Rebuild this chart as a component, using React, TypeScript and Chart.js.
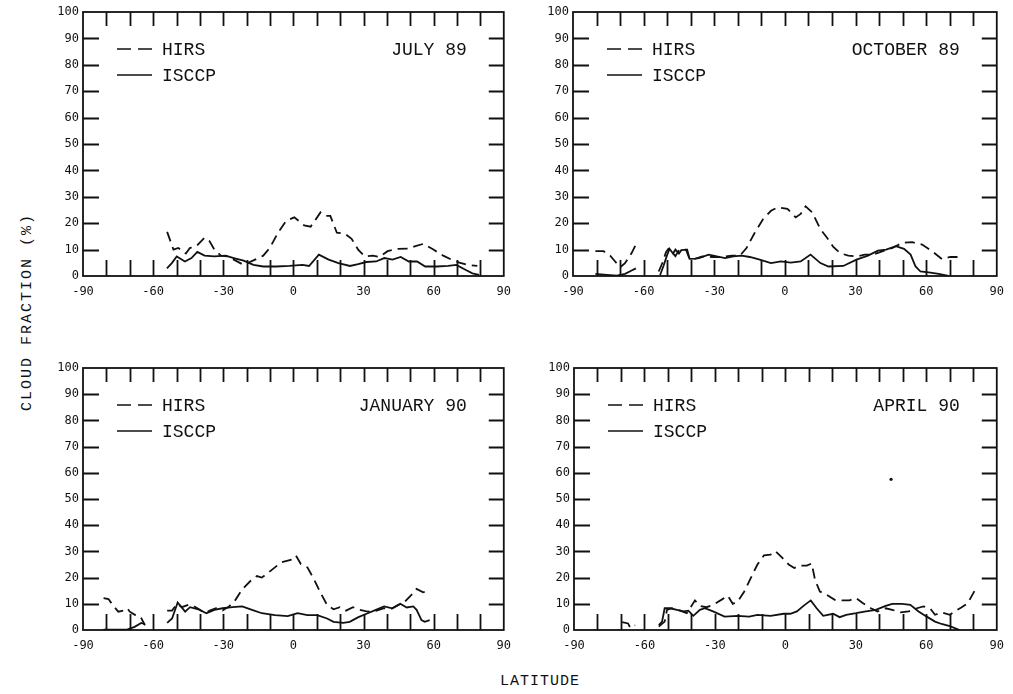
import React, { useEffect, useRef } from "react";
import { Chart, registerables } from "chart.js";

Chart.register(...registerables);

type Pt = [number, number | null];

// Zonal mean cloud fraction (%) against latitude; null marks a break in the curve.
const julyHirs: Pt[] = [
  [-54, 16.7], [-51.3, 10], [-49.2, 10.6], [-46, 8.5], [-44.3, 10.6], [-41.5, 11.3], [-38, 14.5],
  [-35.9, 13.2], [-33.8, 10], [-31, 7.7], [-28.3, 7.4], [-25.5, 6.2], [-21.3, 4.2], [-17.1, 5.9],
  [-12.9, 7.7], [-10.1, 10.6], [-6.6, 16.4], [-3.1, 20.9], [0.4, 22.2], [4.6, 19.2], [7.4, 18.7],
  [11.6, 24.1], [13.7, 22.8], [15.8, 22.8], [18.6, 16.4], [22.1, 16], [24.9, 14.1], [27.7, 10],
  [30.5, 7.4], [34, 7.7], [36.8, 7.2], [40.3, 9.4], [44.5, 10.3], [49.4, 10.4], [52.2, 11.3],
  [55.7, 12.2], [59.9, 10], [64.1, 7.7], [67.6, 6.2], [71, 5.1], [74.5, 4.2], [78.7, 3.8],
];
const julyIsccp: Pt[] = [
  [-54.1, 2.9], [-52, 4.9], [-49.9, 7.4], [-46.4, 5.5], [-43.6, 6.8], [-41.1, 9.1], [-38, 7.7],
  [-33.8, 7.4], [-29, 7.7], [-25.5, 6.8], [-21.3, 5.8], [-17.1, 4.2], [-12.9, 3.6], [-7.3, 3.6],
  [-1.7, 3.8], [3.9, 4.2], [6.7, 3.8], [10.9, 8.1], [15.1, 6.2], [19.3, 4.9], [24.2, 3.8],
  [27.7, 4.5], [31.2, 5.3], [35.4, 5.5], [38.9, 6.8], [42.4, 6.2], [45.9, 7.2], [49.4, 5.5],
  [52.9, 5.5], [56.4, 3.6], [61.3, 3.6], [66.2, 3.8], [69.7, 4.2], [73.8, 2.3], [76.6, 1], [79.4, 0.4],
];

const octoberHirs: Pt[] = [
  [-80.5, 9.4], [-77, 9.4], [-74.2, 7.7], [-72.1, 5.5], [-70, 3.3], [-67.9, 4.9], [-65.1, 8.7],
  [-63.3, 11.9], [-58, null], [-53.6, 1.7], [-52, 5], [-50.5, 9], [-49.5, 10.3], [-48, 9],
  [-46.5, 7.5], [-45, 9.8], [-42, 10], [-40.5, 6.5], [-39.3, 6.2], [-35.1, 7.4], [-31, 7.2],
  [-26.8, 7.2], [-22.6, 7.7], [-19.1, 7.7], [-16.3, 10.6], [-12.8, 16.4], [-9.3, 21.5], [-5.9, 24.7],
  [-3.1, 26], [1.1, 25.4], [4.6, 22.2], [6.7, 23.5], [8.8, 26.4], [11.6, 24.1], [15.1, 17.7],
  [17.9, 14.5], [20.6, 11], [23.4, 8.7], [26.9, 7.7], [30.4, 7.4], [33.9, 8.1], [37.4, 8.1],
  [41.6, 9.4], [45.7, 10.6], [49.9, 12.6], [54.1, 12.8], [58.3, 11.9], [62.5, 9.4], [66.7, 6.4],
  [70.2, 7.2], [73.6, 7.2],
];
const octoberIsccp: Pt[] = [
  [-80.5, 0.8], [-75.6, 0.4], [-71.4, 0.1], [-67.9, 0.8], [-65.1, 2.1], [-63.3, 2.9], [-58, null],
  [-53, 0.4], [-51.5, 4], [-50, 8], [-49, 10.3], [-47.5, 8.5], [-46.5, 10], [-45, 8.5], [-44, 9.8],
  [-41.5, 10], [-40.5, 6.5], [-38, 6.6], [-36.5, 6.8], [-32.4, 8.1], [-28.9, 7.4], [-25.4, 6.8],
  [-21.9, 7.4], [-18.4, 7.7], [-14.9, 7.2], [-10.7, 6.2], [-5.9, 4.9], [-1.7, 5.5], [2.5, 5.1],
  [6.7, 5.5], [10.9, 8.1], [15.1, 4.9], [18.5, 3.6], [24.8, 3.8], [30.4, 6.2], [35.3, 7.7],
  [39.5, 9.6], [43, 10], [47.1, 11.3], [50.6, 10.3], [53.4, 8.1], [55.5, 3.6], [57.6, 1.7],
  [61.8, 1.3], [65.3, 0.8], [69.5, 0],
];

const januaryHirs: Pt[] = [
  [-81.2, 12.2], [-79.1, 11.8], [-77, 9.2], [-74.9, 7], [-72.8, 7.4], [-71, 8.3], [-70, 7],
  [-67.6, 5.7], [-65.4, 5.1], [-63.5, 1.8], [-59, null], [-54, 7.4], [-51.9, 7.4], [-49.8, 10],
  [-47.7, 8.7], [-44.9, 9.6], [-42.8, 9.2], [-40, 7.7], [-37.9, 6.4], [-35.8, 7.4], [-33.1, 8.3],
  [-30.3, 7.4], [-27.5, 9], [-24.7, 11.6], [-21.9, 15.5], [-18.4, 18.7], [-15.6, 20.6],
  [-13.5, 20], [-10.7, 21.9], [-7.9, 23.9], [-5.2, 25.8], [-2.4, 26.5], [-0.7, 26.9], [1.1, 28.4],
  [3.2, 25.2], [6, 23.9], [8.8, 19.4], [11.6, 14.2], [14.4, 9.6], [17.2, 7.9], [19.9, 8.7],
  [22.5, 7.4], [25.5, 8.7], [28.3, 7.7], [31.8, 7], [35.3, 7.3], [38.8, 8.3], [41.6, 7.9],
  [45, 9.6], [47.8, 10.9], [50.6, 13.5], [52.7, 15.7], [55.5, 14.4], [57.6, 14.8],
];
const januaryIsccp: Pt[] = [
  [-81.2, 0.1], [-76.3, 0.1], [-71.4, 0.1], [-67.9, 1.2], [-65.1, 2.7], [-63.5, 2.2], [-59, null],
  [-54, 2.7], [-51.9, 4.4], [-49.5, 10.5], [-46.3, 7], [-44.2, 8.7], [-40.7, 7.9], [-37.2, 6.4],
  [-33.8, 7.7], [-30.3, 8.3], [-26.1, 8.7], [-21.9, 9], [-17.7, 7.7], [-13.5, 6.4], [-7.9, 5.7],
  [-2.4, 5.3], [1.8, 6.4], [6, 5.7], [10.2, 5.7], [14.4, 4.4], [17.2, 3.1], [21.3, 2.7],
  [24.1, 3.1], [27.6, 4.8], [31.8, 6.4], [35.3, 7.7], [38.8, 9], [42.3, 8.3], [45.7, 10],
  [48.5, 8.6], [51.3, 9], [52.7, 7.7], [54.8, 3.8], [56.2, 3.1], [58.3, 3.8],
];

const aprilHirs: Pt[] = [
  [-69.5, 3], [-67, 2.5], [-66, 0.8], [-64, 1.8], [-59, null], [-53.9, 1.3], [-51.4, 3.2],
  [-50.4, 7.7], [-48.3, 8.3], [-44.8, 7.4], [-42, 6.4], [-40.6, 8.3], [-38.5, 11.3], [-36.4, 9.2],
  [-33.6, 8.7], [-30.8, 9.6], [-27.3, 11.5], [-24.5, 13.1], [-22.4, 10], [-20.3, 10.9],
  [-17.5, 14.7], [-14.7, 19.9], [-11.9, 25], [-9.1, 28.5], [-6.3, 28.8], [-4.2, 30.1],
  [-1.4, 27.6], [1.4, 25], [3.8, 23.7], [6.3, 24.6], [9.1, 24.6], [11.2, 25.4], [12.6, 19.2],
  [14.7, 14.7], [17.5, 13.5], [21, 11.5], [24.5, 11.3], [27.3, 11.3], [30.1, 12.2], [32.9, 10.3],
  [36.4, 8.3], [39.2, 7.1], [42.7, 8.3], [45.5, 7.7], [49, 6.7], [52.5, 7.1], [56, 8.3],
  [58.8, 9], [61.6, 8.3], [63.7, 5.8], [66.5, 6.7], [70, 5.8], [72.1, 7.1], [74.9, 8.6],
  [77.7, 10.3], [81.2, 16],
];
const aprilIsccp: Pt[] = [
  [-53.9, 1.9], [-52.5, 3.2], [-51.4, 8.3], [-49, 8.3], [-46.2, 7.7], [-43.4, 7.1], [-41.3, 7.4],
  [-39.2, 5.4], [-36.4, 7.7], [-34.3, 8.3], [-30.8, 7.1], [-25.9, 5.1], [-20.3, 5.4], [-15.4, 5.1],
  [-11.9, 5.8], [-6.3, 5.4], [-0.7, 6.2], [2.1, 6.2], [4.9, 7.1], [7.7, 9.2], [10.8, 11.3],
  [13.3, 8.3], [16.1, 5.4], [20.3, 6.2], [23.1, 4.9], [25.9, 5.8], [30.1, 6.4], [34.3, 7.1],
  [38.5, 7.7], [42.7, 9.2], [45.5, 10], [49.7, 10], [53.2, 9.6], [56.7, 7.1], [60.2, 5.1],
  [63.7, 3.2], [66.5, 2.3], [70, 1.5], [74.2, 0],
];
const aprilSpeck: Pt[] = [[45, 57.5]];

// Axis labels and inward tick marks
const latitudeLabels = [-90, -60, -30, 0, 30, 60, 90];
const fractionLabels = [0, 10, 20, 30, 40, 50, 60, 70, 80, 90, 100];
const latitudeMarks = [-80, -70, -60, -50, -40, -30, -20, -10, 0, 10, 20, 30, 40, 50, 60, 70, 80];
const fractionMarks = [10, 20, 30, 40, 50, 60, 70, 80, 90];

const INK = "#111111";
const TICK_FONT = "'DejaVu Sans Mono', monospace";
const TEXT_FONT = "'Liberation Mono', monospace";

type Box = { left: number; top: number; width: number; height: number; padTop: number; padRight: number };

const panels: { title: string; hirs: Pt[]; isccp: Pt[]; extra?: Pt[]; box: Box }[] = [
  { title: "JULY 89", hirs: julyHirs, isccp: julyIsccp,
    box: { left: 40, top: 0, width: 480, height: 300, padTop: 12, padRight: 12 } },
  { title: "OCTOBER 89", hirs: octoberHirs, isccp: octoberIsccp,
    box: { left: 530, top: 0, width: 483, height: 300, padTop: 12, padRight: 11 } },
  { title: "JANUARY 90", hirs: januaryHirs, isccp: januaryIsccp,
    box: { left: 40, top: 350, width: 480, height: 304, padTop: 18, padRight: 12 } },
  { title: "APRIL 90", hirs: aprilHirs, isccp: aprilIsccp, extra: aprilSpeck,
    box: { left: 531, top: 350, width: 482, height: 304, padTop: 18, padRight: 10 } },
];

const toXY = (pts: Pt[]) => pts.map(([x, y]) => ({ x, y }));

// Frame, inward ticks, in-plot legend and month label
const framePlugin = {
  id: "frameTicks",
  afterDatasetsDraw(chart: any, _args: any, opts: any) {
    const { ctx, chartArea, scales } = chart;
    const { left, right, top, bottom } = chartArea;
    const xs = scales.x;
    const ys = scales.y;
    ctx.save();
    ctx.strokeStyle = INK;
    ctx.fillStyle = INK;
    ctx.lineWidth = 1.8;
    ctx.setLineDash([]);
    ctx.strokeRect(left, top, right - left, bottom - top);
    ctx.beginPath();
    for (const lat of latitudeMarks) {
      const px = Math.round(xs.getPixelForValue(lat)) + 0.5;
      ctx.moveTo(px, top);
      ctx.lineTo(px, top + 14);
      ctx.moveTo(px, bottom);
      ctx.lineTo(px, bottom - 16);
    }
    for (const f of fractionMarks) {
      const py = Math.round(ys.getPixelForValue(f)) + 0.5;
      ctx.moveTo(left, py);
      ctx.lineTo(left + 16, py);
      ctx.moveTo(right, py);
      ctx.lineTo(right - 15, py);
    }
    ctx.stroke();

    ctx.font = `18px ${TEXT_FONT}`;
    ctx.textBaseline = "middle";
    ctx.textAlign = "left";
    ctx.lineWidth = 1.6;
    const legendSets = chart.data.datasets.slice(0, 2);
    legendSets.forEach((ds: any, i: number) => {
      const yy = top + 37 + i * 26;
      ctx.setLineDash(ds.borderDash && ds.borderDash.length ? [14, 7] : []);
      ctx.beginPath();
      ctx.moveTo(left + 34, yy);
      ctx.lineTo(left + 69, yy);
      ctx.stroke();
      ctx.setLineDash([]);
      ctx.fillText(ds.label, left + 79, yy + 1);
    });
    ctx.textAlign = "right";
    ctx.fillText(opts.title, right - 37, top + 38);
    ctx.restore();
  },
};

function Panel({ title, hirs, isccp, extra, box }: { title: string; hirs: Pt[]; isccp: Pt[]; extra?: Pt[]; box: Box }) {
  const ref = useRef<HTMLCanvasElement>(null);
  useEffect(() => {
    const datasets: any[] = [
      { label: "HIRS", data: toXY(hirs), borderColor: INK, borderWidth: 1.8, borderDash: [10, 6],
        pointRadius: 0, tension: 0, spanGaps: false, fill: false },
      { label: "ISCCP", data: toXY(isccp), borderColor: INK, borderWidth: 1.8,
        pointRadius: 0, tension: 0, spanGaps: false, fill: false },
    ];
    if (extra) {
      datasets.push({ type: "scatter", label: "", data: toXY(extra), showLine: false,
        pointRadius: 1.6, pointBorderWidth: 0, backgroundColor: INK, borderColor: INK });
    }
    const chart = new Chart(ref.current as HTMLCanvasElement, {
      type: "line",
      data: { datasets },
      options: {
        responsive: false,
        animation: false,
        devicePixelRatio: 1,
        events: [],
        layout: { padding: { top: box.padTop, right: box.padRight, left: 0, bottom: 0 } },
        plugins: {
          legend: { display: false },
          tooltip: { enabled: false },
          frameTicks: { title },
        } as any,
        scales: {
          x: {
            type: "linear", min: -90, max: 90,
            grid: { display: false, drawTicks: false },
            border: { display: false },
            afterBuildTicks: (s: any) => { s.ticks = latitudeLabels.map((v) => ({ value: v })); },
            afterFit: (s: any) => { s.height = 24; },
            ticks: { color: INK, font: { family: TICK_FONT, size: 12 }, padding: 9,
              maxRotation: 0, autoSkip: false, callback: (v: any) => String(v) },
          },
          y: {
            type: "linear", min: 0, max: 100,
            grid: { display: false, drawTicks: false },
            border: { display: false },
            afterBuildTicks: (s: any) => { s.ticks = fractionLabels.map((v) => ({ value: v })); },
            afterFit: (s: any) => { s.width = 43; },
            ticks: { color: INK, font: { family: TICK_FONT, size: 12 }, padding: 4,
              autoSkip: false, callback: (v: any) => String(v) },
          },
        },
      },
      plugins: [framePlugin],
    } as any);
    return () => chart.destroy();
  }, []);
  return (
    <canvas
      ref={ref}
      width={box.width}
      height={box.height}
      style={{ position: "absolute", left: box.left, top: box.top, width: box.width, height: box.height }}
    />
  );
}

export default function App() {
  return (
    <div style={{ position: "absolute", left: 0, top: 0, width: 1013, height: 694, background: "#fff", overflow: "hidden" }}>
      {panels.map((p) => (
        <Panel key={p.title} {...p} />
      ))}
      <div
        style={{
          position: "absolute", left: 27, top: 312, transform: "translate(-50%, -50%) rotate(-90deg)",
          whiteSpace: "nowrap", font: `15px ${TEXT_FONT}`, letterSpacing: "2px", color: INK,
        }}
      >
        CLOUD FRACTION (%)
      </div>
      <div
        style={{
          position: "absolute", left: 540, top: 681, transform: "translate(-50%, -50%)",
          whiteSpace: "nowrap", font: `15px ${TEXT_FONT}`, letterSpacing: "1px", color: INK,
        }}
      >
        LATITUDE
      </div>
    </div>
  );
}
